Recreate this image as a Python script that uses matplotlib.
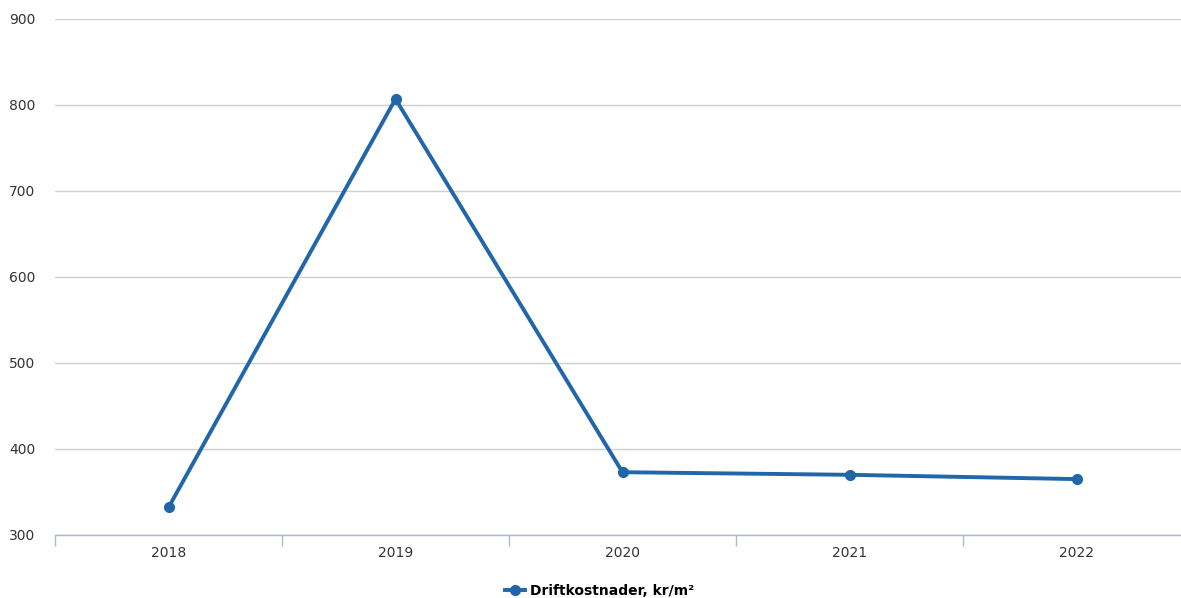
import matplotlib.pyplot as plt
from matplotlib.lines import Line2D

years = ['2018', '2019', '2020', '2021', '2022']
costs = [332, 807, 373, 370, 365]
y_ticks = [300, 400, 500, 600, 700, 800, 900]

line_color = '#2166a8'

fig = plt.figure(figsize=(11.81, 5.98), dpi=100)
# the plot area runs a little past the right edge, like the reference crop
ax = fig.add_axes([55 / 1181, 1 - 535 / 598, 1135 / 1181, 516 / 598])

x = list(range(len(years)))
ax.plot(x, costs, color=line_color, linewidth=2.8, marker='o', markersize=7,
        zorder=3)

ax.set_xlim(-0.5, len(years) - 0.5)
ax.set_ylim(300, 900)
ax.set_yticks(y_ticks)
ax.set_xticks(x)
ax.set_xticklabels(years)
ax.set_xticks([i - 0.5 for i in range(len(years) + 1)], minor=True)

ax.grid(axis='y', color='#cfcfcf', linewidth=1)
ax.set_axisbelow(True)
for side in ['top', 'right', 'left']:
    ax.spines[side].set_visible(False)
ax.spines['bottom'].set_color('#a8bccf')
ax.spines['bottom'].set_linewidth(1)

ax.tick_params(axis='y', length=0, pad=14, labelsize=10, labelcolor='#333333')
ax.tick_params(axis='x', which='major', length=0, pad=8, labelsize=10,
               labelcolor='#333333')
ax.tick_params(axis='x', which='minor', length=8, color='#a8bccf', width=1,
               direction='out')

handle = Line2D([], [], color=line_color, linewidth=2.8, marker='o', markersize=7)
fig.legend([handle], ['Driftkostnader, kr/m²'], loc='center',
           bbox_to_anchor=(600 / 1181, 1 - 591 / 598), frameon=False,
           prop={'size': 10, 'weight': 'bold'}, handlelength=1.4,
           handletextpad=0.4)

fig.savefig('out.png', dpi=100)
